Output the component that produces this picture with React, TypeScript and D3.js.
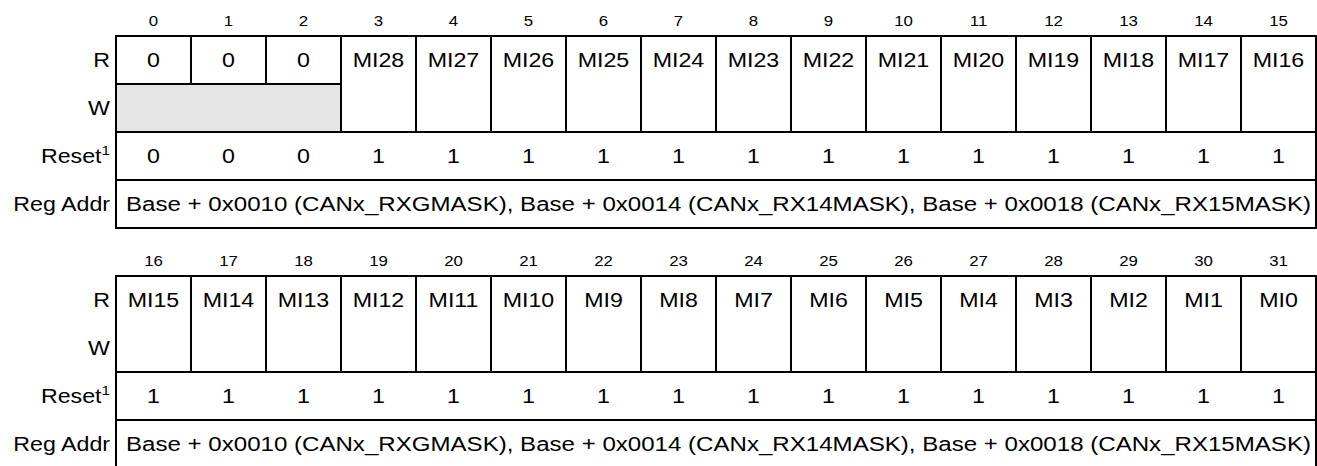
import React from "react";
import * as d3 from "d3";

const bitsTop = ["0","1","2","3","4","5","6","7","8","9","10","11","12","13","14","15"];
const bitsBottom = ["16","17","18","19","20","21","22","23","24","25","26","27","28","29","30","31"];
const readTop = ["0","0","0","MI28","MI27","MI26","MI25","MI24","MI23","MI22","MI21","MI20","MI19","MI18","MI17","MI16"];
const readBottom = ["MI15","MI14","MI13","MI12","MI11","MI10","MI9","MI8","MI7","MI6","MI5","MI4","MI3","MI2","MI1","MI0"];
const resetTop = ["0","0","0","1","1","1","1","1","1","1","1","1","1","1","1","1"];
const resetBottom = ["1","1","1","1","1","1","1","1","1","1","1","1","1","1","1","1"];
const reservedTop = [0, 1, 2];
const rowLabels = ["R", "W", "Reset", "Reg Addr"];
const regAddr = "Base + 0x0010 (CANx_RXGMASK), Base + 0x0014 (CANx_RX14MASK), Base + 0x0018 (CANx_RX15MASK)";

const W = 1317, H = 466;
const FONT = "'Liberation Sans', Arial, Helvetica, sans-serif";
const SX = 1.16;

function T({ x, y, text, size, anchor = "middle", sup }: any) {
  return (
    <text transform={`translate(${x},${y}) scale(${SX},1)`} fontSize={size} textAnchor={anchor} fontFamily={FONT} fill="#000">
      {text}
      {sup ? <tspan fontSize={size * 0.66} dy={-size * 0.42}>{sup}</tspan> : null}
    </text>
  );
}

function Table({ top, bits, read, reset, reserved }: any) {
  const x = d3.scaleLinear().domain([0, 16]).range([116, 1316]);
  const y = d3.scaleLinear().domain([0, 4]).range([top, top + 192]);
  const cx = (i: number) => (x(i) + x(i + 1)) / 2;
  const cy = (r: number) => (y(r) + y(r + 1)) / 2;
  const fs = 20;
  const stroke = { stroke: "#000", strokeWidth: 2, fill: "none" };
  const resSet = new Set(reserved);
  return (
    <g>
      {bits.map((b: string, i: number) => (
        <T key={"b" + i} x={cx(i)} y={top - 10} text={b} size={14.5} />
      ))}
      {rowLabels.map((l, r) => (
        <T key={"l" + r} x={110} y={cy(r) + 7} text={l} size={fs} anchor="end" sup={r === 2 ? "1" : undefined} />
      ))}
      {reserved.length > 0 && (
        <rect x={x(reserved[0])} y={y(1)} width={x(reserved[reserved.length - 1] + 1) - x(reserved[0])} height={y(2) - y(1)} fill="#e5e5e5" />
      )}
      <rect x={x(0)} y={y(0)} width={x(16) - x(0)} height={y(4) - y(0)} {...stroke} />
      <line x1={x(0)} x2={x(16)} y1={y(2)} y2={y(2)} {...stroke} />
      <line x1={x(0)} x2={x(16)} y1={y(3)} y2={y(3)} {...stroke} />
      {reserved.length > 0 && (
        <line x1={x(reserved[0])} x2={x(reserved[reserved.length - 1] + 1)} y1={y(1)} y2={y(1)} {...stroke} />
      )}
      {d3.range(1, 16).map((i) => (
        <line key={"v" + i} x1={x(i)} x2={x(i)} y1={y(0)} y2={resSet.has(i) && resSet.has(i - 1) ? y(1) : y(2)} {...stroke} />
      ))}
      {read.map((t: string, i: number) => (
        <T key={"r" + i} x={cx(i)} y={cy(0) + 7} text={t} size={fs} />
      ))}
      {reset.map((t: string, i: number) => (
        <T key={"s" + i} x={cx(i)} y={cy(2) + 7} text={t} size={fs} />
      ))}
      <text x={x(0) + 10} y={cy(3) + 7} fontSize={fs} fontFamily={FONT} textLength={1185} lengthAdjust="spacingAndGlyphs">{regAddr}</text>
    </g>
  );
}

export default function App() {
  return (
    <div style={{ position: "absolute", left: 0, top: 0 }}>
      <svg width={W} height={H} style={{ display: "block", background: "#fff" }}>
        <rect width={W} height={H} fill="#fff" />
        <Table top={36} bits={bitsTop} read={readTop} reset={resetTop} reserved={reservedTop} />
        <Table top={276} bits={bitsBottom} read={readBottom} reset={resetBottom} reserved={[]} />
      </svg>
    </div>
  );
}
